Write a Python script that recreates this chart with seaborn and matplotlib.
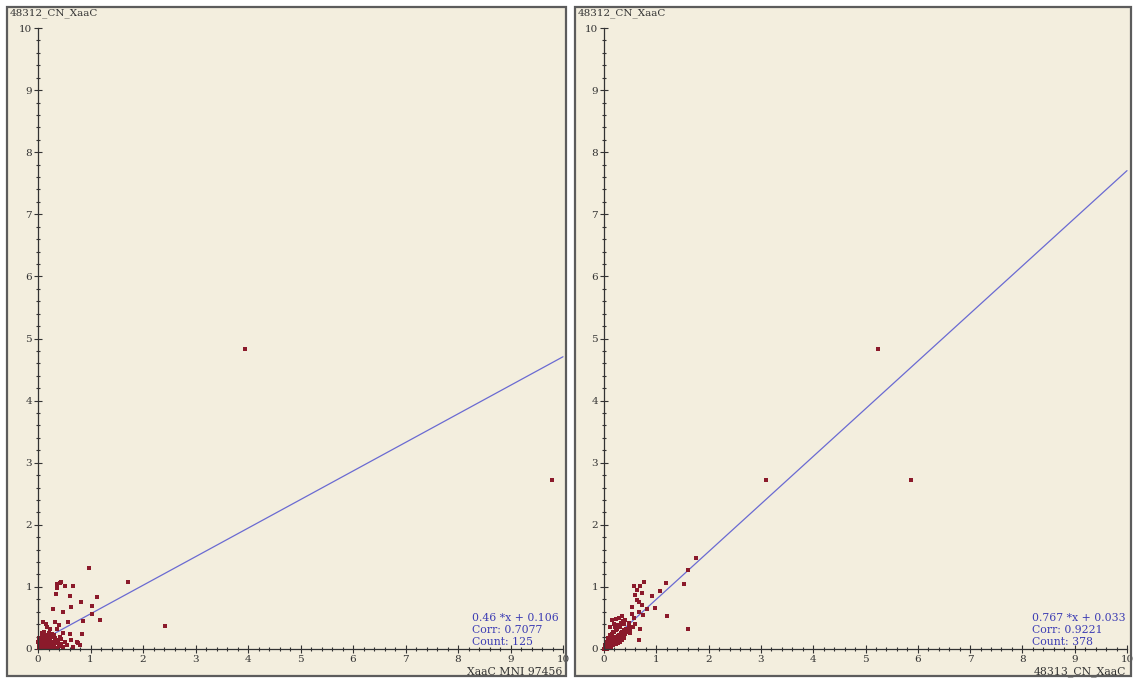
import numpy as np
import pandas as pd
import matplotlib
matplotlib.use("Agg")
import matplotlib.pyplot as plt
from matplotlib.patches import Rectangle
import seaborn as sns

# data
left_x = [0.98, 1.72, 2.41, 3.94, 9.79, 0.41, 0.37, 0.44, 0.51, 0.67, 0.36, 0.34, 0.60, 1.12,
          0.81, 1.02, 0.28, 0.62, 0.48, 1.02, 1.18, 0.85, 0.32, 0.10, 0.58, 0.23, 0.37, 0.18,
          0.15, 0.60, 0.83, 0.74, 0.80, 0.76, 0.44, 0.48, 0.40,
          0.02, 0.05, 0.08, 0.10, 0.12, 0.15, 0.18, 0.20, 0.22, 0.25, 0.28, 0.30, 0.33, 0.35,
          0.38, 0.40, 0.42, 0.05, 0.07, 0.10, 0.13, 0.16, 0.19, 0.24, 0.27, 0.31, 0.03, 0.06,
          0.09, 0.14, 0.17, 0.21, 0.26, 0.29, 0.32, 0.36, 0.39, 0.44, 0.01, 0.04, 0.11, 0.23,
          0.34, 0.47, 0.52, 0.55, 0.62, 0.66, 0.12, 0.20, 0.08, 0.00, 0.02]
left_y = [1.30, 1.08, 0.37, 4.83, 2.72, 1.07, 1.05, 1.08, 1.01, 1.02, 0.98, 0.89, 0.86, 0.84,
          0.75, 0.69, 0.65, 0.67, 0.59, 0.57, 0.47, 0.45, 0.44, 0.43, 0.44, 0.33, 0.32, 0.36,
          0.40, 0.24, 0.24, 0.12, 0.06, 0.09, 0.16, 0.26, 0.38,
          0.02, 0.05, 0.03, 0.08, 0.12, 0.05, 0.10, 0.03, 0.15, 0.08, 0.12, 0.04, 0.18, 0.09,
          0.14, 0.05, 0.20, 0.15, 0.20, 0.18, 0.22, 0.16, 0.21, 0.19, 0.24, 0.22, 0.10, 0.12,
          0.14, 0.02, 0.07, 0.09, 0.02, 0.07, 0.11, 0.02, 0.10, 0.08, 0.06, 0.01, 0.04, 0.12,
          0.14, 0.03, 0.12, 0.06, 0.15, 0.04, 0.28, 0.26, 0.25, 0.12, 0.18]

right_x = [5.24, 5.87, 3.10, 1.76, 1.60, 1.53, 1.60, 1.20, 1.18, 0.77, 0.69, 0.57, 0.63, 0.59,
           0.72, 0.91, 1.07, 0.63, 0.67, 0.53, 0.82, 0.98, 0.66, 0.72, 0.53, 0.34, 0.15, 0.22,
           0.28, 0.40, 0.69, 0.66, 0.75, 0.58, 0.48, 0.55, 0.45, 0.38, 0.30, 0.20, 0.12, 0.50,
           0.60,
           0.00, 0.02, 0.03, 0.05, 0.05, 0.07, 0.08, 0.09, 0.10, 0.11, 0.12, 0.13, 0.14, 0.15,
           0.16, 0.17, 0.18, 0.19, 0.20, 0.21, 0.22, 0.23, 0.24, 0.25, 0.26, 0.27, 0.28, 0.29,
           0.30, 0.31, 0.32, 0.33, 0.34, 0.35, 0.36, 0.37, 0.38, 0.40, 0.41, 0.42, 0.44, 0.46,
           0.48, 0.50, 0.04, 0.07, 0.10, 0.13, 0.16, 0.19, 0.22, 0.25, 0.06, 0.10, 0.14, 0.18,
           0.22, 0.26, 0.30, 0.34, 0.39, 0.01, 0.03, 0.08, 0.12, 0.17, 0.21, 0.26, 0.32, 0.36]
right_y = [4.83, 2.72, 2.72, 1.46, 1.28, 1.05, 0.33, 0.53, 1.07, 1.08, 1.01, 1.01, 0.95, 0.87,
           0.90, 0.85, 0.94, 0.79, 0.75, 0.68, 0.65, 0.66, 0.60, 0.71, 0.57, 0.53, 0.47, 0.48,
           0.50, 0.47, 0.33, 0.14, 0.55, 0.50, 0.42, 0.35, 0.30, 0.40, 0.36, 0.40, 0.35, 0.25,
           0.40,
           0.00, 0.01, 0.04, 0.02, 0.06, 0.05, 0.09, 0.03, 0.07, 0.11, 0.05, 0.09, 0.13, 0.08,
           0.12, 0.16, 0.10, 0.14, 0.18, 0.12, 0.16, 0.20, 0.13, 0.17, 0.21, 0.15, 0.19, 0.23,
           0.17, 0.21, 0.25, 0.19, 0.23, 0.27, 0.21, 0.26, 0.30, 0.24, 0.28, 0.33, 0.27, 0.32,
           0.36, 0.30, 0.10, 0.13, 0.16, 0.20, 0.24, 0.27, 0.30, 0.33, 0.00, 0.01, 0.04, 0.06,
           0.08, 0.10, 0.12, 0.15, 0.18, 0.07, 0.12, 0.18, 0.22, 0.28, 0.35, 0.38, 0.42, 0.45]

major_ticks = [0, 1, 2, 3, 4, 5, 6, 7, 8, 9, 10]
y_title = "48312_CN_XaaC"
x_titles = ["XaaC MNI 97456", "48313_CN_XaaC"]
fit_slope = [0.46, 0.767]
fit_icpt = [0.106, 0.033]
fit_text = ["0.46 *x + 0.106", "0.767 *x + 0.033"]
corr_text = ["Corr: 0.7077", "Corr: 0.9221"]
count_text = ["Count: 125", "Count: 378"]

W, H = 1133, 681
BG = "#f3eede"
PT_COL = "#8b1a2b"
LINE_COL = "#6a6ad2"
TXT_BLUE = "#3c3cb4"
AX_COL = "#333333"
TXT_COL = "#333333"

sns.set_style("white")
plt.rcParams["font.family"] = ["DejaVu Serif"]

fig = plt.figure(figsize=(W / 100, H / 100), dpi=100)
fig.patch.set_facecolor("white")

# frame pixels (left, right, top, bottom) and pixel pos of data 0 / 10
panels = [
    dict(fl=7, fr=566, ft=7, fb=676, x0=38, x10=563, y0=649, y10=28),
    dict(fl=575, fr=1131, ft=7, fb=676, x0=604, x10=1127, y0=649, y10=28),
]
datasets = [(left_x, left_y), (right_x, right_y)]
minor_ticks = np.linspace(0, 10, 51)

for i, p in enumerate(panels):
    ax = fig.add_axes([p["fl"] / W, 1 - p["fb"] / H,
                       (p["fr"] - p["fl"]) / W, (p["fb"] - p["ft"]) / H])
    ax.set_facecolor(BG)
    sx = (p["x10"] - p["x0"]) / 10.0
    sy = (p["y0"] - p["y10"]) / 10.0

    df = pd.DataFrame({"x": datasets[i][0], "y": datasets[i][1]})
    xs = np.array([0.0, 10.0])
    ax.plot(xs, fit_slope[i] * xs + fit_icpt[i], color=LINE_COL, lw=0.9, zorder=2)
    sns.scatterplot(data=df, x="x", y="y", ax=ax, marker="s", s=8,
                    color=PT_COL, linewidth=0, zorder=3)
    ax.set_xlabel("")
    ax.set_ylabel("")

    for side in ["top", "right"]:
        ax.spines[side].set_visible(False)
    for side in ["left", "bottom"]:
        ax.spines[side].set_position(("data", 0))
        ax.spines[side].set_bounds(0, 10)
        ax.spines[side].set_color(AX_COL)
        ax.spines[side].set_linewidth(0.9)
        ax.spines[side].set_zorder(4)

    ax.set_xticks(major_ticks)
    ax.set_yticks(major_ticks)
    ax.set_xticks(minor_ticks, minor=True)
    ax.set_yticks(minor_ticks, minor=True)
    ax.set_xlim(-(p["x0"] - p["fl"]) / sx, 10 + (p["fr"] - p["x10"]) / sx)
    ax.set_ylim(-(p["fb"] - p["y0"]) / sy, 10 + (p["y10"] - p["ft"]) / sy)
    ax.tick_params(which="both", bottom=True, left=True, top=False, right=False)
    ax.tick_params(which="major", direction="inout", length=5.5, width=0.8,
                   color=AX_COL, labelsize=7.5, labelcolor=TXT_COL, pad=1.5)
    ax.tick_params(which="minor", direction="inout", length=3.5, width=0.8,
                   color=AX_COL)
    ax.grid(False)

    frame = Rectangle((0, 0), 1, 1, transform=ax.transAxes, fill=False,
                      ec="#5c5c5c", lw=1.6, clip_on=False, zorder=6)
    ax.add_patch(frame)

    # texts placed by pixel position
    fig.text((p["fl"] + 3) / W, 1 - 13 / H, y_title, fontsize=7.5,
             color=TXT_COL, ha="left", va="center")
    fig.text((p["x10"] - 1) / W, 1 - 672 / H, x_titles[i], fontsize=7.8,
             color=TXT_COL, ha="right", va="center")
    tx = 472 if i == 0 else 1032
    for k, s in enumerate([fit_text[i], corr_text[i], count_text[i]]):
        fig.text(tx / W, 1 - (618 + 12 * k) / H, s, fontsize=7.8,
                 color=TXT_BLUE, ha="left", va="center")

fig.savefig("out.png", dpi=100)
